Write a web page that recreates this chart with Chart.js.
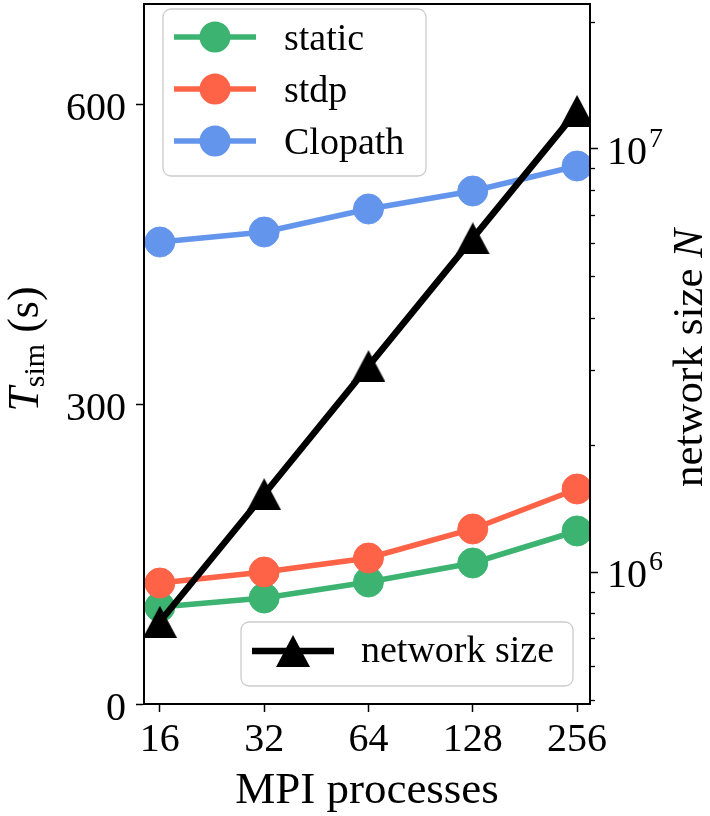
<!DOCTYPE html>
<html lang="en">
<head>
  <meta charset="UTF-8" />
  <title>Simulation time vs MPI processes</title>
  <script src="https://cdn.jsdelivr.net/npm/chart.js@4"></script>
  <style>
    html, body { margin: 0; padding: 0; background: #fff; }
    #wrap { width: 710px; height: 816px; }
  </style>
</head>
<body>
  <div id="wrap"><canvas id="chart" width="710" height="816"></canvas></div>

  <script>
    // data
    const mpiProcesses = [16, 32, 64, 128, 256];
    const staticTime = [97, 106, 122, 141, 173];
    const stdpTime = [121, 132, 146, 175, 215];
    const clopathTime = [462, 472, 495, 513, 538];
    const networkSize = [7.65e5, 1.53e6, 3.07e6, 6.15e6, 1.23e7];

    const timeTicks = [0, 300, 600];
    const sizeMajorTicks = [1e6, 1e7];

    const xRange = [14.4, 279];
    const timeRange = [0, 700];
    const sizeRange = [4.89e5, 2.2e7];

    const GREEN = '#3cb371';
    const RED = '#ff6347';
    const BLUE = '#6495ed';
    const serif = '"Liberation Serif", "Times New Roman", serif';

    Chart.defaults.font.family = serif;
    Chart.defaults.color = '#000';

    // matplotlib-like "^" marker (apex and base symmetric around the point)
    const triangle = (() => {
      const c = document.createElement('canvas');
      c.width = 34; c.height = 32;
      const g = c.getContext('2d');
      g.fillStyle = '#000';
      g.beginPath();
      g.moveTo(17, 0); g.lineTo(34, 32); g.lineTo(0, 32);
      g.closePath();
      g.fill();
      return c;
    })();

    function points(ys) {
      return mpiProcesses.map((x, i) => ({ x: x, y: ys[i] }));
    }

    function timeSeries(label, ys, color, order) {
      return {
        label: label,
        data: points(ys),
        yAxisID: 'yTime',
        borderColor: color,
        backgroundColor: color,
        borderWidth: 5.5,
        pointRadius: 15,
        pointHoverRadius: 15,
        pointBorderWidth: 1,
        pointBorderColor: color,
        pointBackgroundColor: color,
        order: order
      };
    }

    function setTicks(values) {
      return scale => { scale.ticks = values.map(v => ({ value: v })); };
    }

    // fixed axis sizes, no extra room for half labels
    function fitTo(size) {
      return s => {
        if (s.isHorizontal()) s.height = size; else s.width = size;
        s.paddingTop = 0; s.paddingBottom = 0;
        s.paddingLeft = 0; s.paddingRight = 0;
      };
    }

    // draws a run of text pieces with different fonts along one baseline
    function drawRich(ctx, parts, x, y, align) {
      let total = 0;
      parts.forEach(p => { ctx.font = p.font; p.w = ctx.measureText(p.text).width; total += p.w; });
      let cx = align === 'center' ? x - total / 2 : x;
      ctx.textAlign = 'left';
      ctx.textBaseline = 'alphabetic';
      parts.forEach(p => {
        ctx.font = p.font;
        ctx.fillText(p.text, cx, y + (p.dy || 0));
        cx += p.w;
      });
    }

    function legendBox(ctx, x, y, w, h) {
      ctx.beginPath();
      ctx.roundRect(x, y, w, h, 8);
      ctx.fillStyle = 'rgba(255,255,255,0.8)';
      ctx.fill();
      ctx.strokeStyle = '#cccccc';
      ctx.lineWidth = 1.3;
      ctx.stroke();
    }

    function legendHandle(ctx, x0, x1, y, ds) {
      ctx.strokeStyle = ds.borderColor;
      ctx.lineWidth = ds.borderWidth;
      ctx.beginPath();
      ctx.moveTo(x0, y); ctx.lineTo(x1, y);
      ctx.stroke();
      const cx = (x0 + x1) / 2;
      if (ds.pointStyle === triangle) {
        ctx.drawImage(triangle, cx - triangle.width / 2, y - triangle.height / 2);
      } else {
        ctx.fillStyle = ds.borderColor;
        ctx.beginPath();
        ctx.arc(cx, y, 15.5, 0, Math.PI * 2);
        ctx.fill();
      }
    }

    const decorations = {
      id: 'decorations',
      beforeDraw(chart) {
        const ctx = chart.ctx;
        ctx.save();
        ctx.fillStyle = '#fff';
        ctx.fillRect(0, 0, chart.width, chart.height);
        ctx.restore();
      },
      afterDraw(chart) {
        const ctx = chart.ctx;
        const area = chart.chartArea;
        const yN = chart.scales.yN;
        ctx.save();
        ctx.fillStyle = '#000';
        ctx.strokeStyle = '#000';

        // top spine
        ctx.lineWidth = 2;
        ctx.beginPath();
        ctx.moveTo(area.left - 1, area.top);
        ctx.lineTo(area.right + 1, area.top);
        ctx.stroke();

        // minor ticks of the log axis
        ctx.lineWidth = 1.3;
        for (let d = 5; d <= 7; d++) {
          for (let m = 2; m <= 9; m++) {
            const v = m * Math.pow(10, d);
            if (v < sizeRange[0] || v > sizeRange[1]) continue;
            const py = Math.round(yN.getPixelForValue(v)) + 0.5;
            ctx.beginPath();
            ctx.moveTo(area.right, py);
            ctx.lineTo(area.right + 5, py);
            ctx.stroke();
          }
        }

        // log axis labels 10^n
        sizeMajorTicks.forEach(v => {
          const py = yN.getPixelForValue(v);
          const exp = String(Math.round(Math.log10(v)));
          ctx.font = '40px ' + serif;
          ctx.textAlign = 'left';
          ctx.textBaseline = 'alphabetic';
          ctx.fillText('10', area.right + 17, py + 15);
          const w = ctx.measureText('10').width;
          ctx.font = '28px ' + serif;
          ctx.fillText(exp, area.right + 19 + w, py - 2);
        });

        // axis titles
        drawRich(ctx, [{ text: 'MPI processes', font: '45px ' + serif }],
          (area.left + area.right) / 2, 803, 'center');

        ctx.save();
        ctx.translate(38, 349);
        ctx.rotate(-Math.PI / 2);
        drawRich(ctx, [
          { text: 'T', font: 'italic 44px ' + serif },
          { text: 'sim', font: '30px ' + serif, dy: 6 },
          { text: ' (s)', font: '44px ' + serif }
        ], 0, 0, 'center');
        ctx.restore();

        ctx.save();
        ctx.translate(702, 358);
        ctx.rotate(-Math.PI / 2);
        drawRich(ctx, [
          { text: 'network size ', font: '43px ' + serif },
          { text: 'N', font: 'italic 43px ' + serif }
        ], 0, 0, 'center');
        ctx.restore();

        // legend of the time series (upper left)
        const ds = chart.data.datasets;
        const timeSets = [ds[1], ds[2], ds[3]];
        legendBox(ctx, area.left + 19, area.top + 5, 263, 167);
        timeSets.forEach((s, i) => {
          const y = area.top + 33 + i * 52;
          legendHandle(ctx, area.left + 30, area.left + 112, y, s);
          ctx.fillStyle = '#000';
          ctx.font = '38px ' + serif;
          ctx.textAlign = 'left';
          ctx.textBaseline = 'alphabetic';
          ctx.fillText(s.label, area.left + 140, y + 13);
        });

        // legend of the network size (lower right)
        legendBox(ctx, area.left + 97, area.bottom - 82, 332, 64);
        const ly = area.bottom - 53;
        legendHandle(ctx, area.left + 108, area.left + 190, ly, ds[0]);
        ctx.fillStyle = '#000';
        ctx.font = '38px ' + serif;
        ctx.fillText(ds[0].label, area.left + 217, ly + 11);

        ctx.restore();
      }
    };

    const ctx = document.getElementById('chart').getContext('2d');
    const chart = new Chart(ctx, {
      type: 'line',
      data: {
        datasets: [
          {
            label: 'network size',
            data: points(networkSize),
            yAxisID: 'yN',
            borderColor: '#000',
            backgroundColor: '#000',
            borderWidth: 6.5,
            pointStyle: triangle,
            pointRadius: 16,
            pointHoverRadius: 16,
            order: 0
          },
          timeSeries('static', staticTime, GREEN, 3),
          timeSeries('stdp', stdpTime, RED, 2),
          timeSeries('Clopath', clopathTime, BLUE, 1)
        ]
      },
      options: {
        responsive: false,
        animation: false,
        events: [],
        layout: { padding: { top: 4, left: 0, right: 0, bottom: 0 }, autoPadding: false },
        plugins: { legend: { display: false }, tooltip: { enabled: false } },
        scales: {
          x: {
            type: 'logarithmic',
            min: xRange[0],
            max: xRange[1],
            afterBuildTicks: setTicks(mpiProcesses),
            afterFit: fitTo(112),
            ticks: { callback: v => String(v), font: { size: 40 }, padding: 4, maxRotation: 0, autoSkip: false },
            grid: { drawOnChartArea: false, tickLength: 8, tickColor: '#000', tickWidth: 1.5 },
            border: { color: '#000', width: 2, z: 1 }
          },
          yTime: {
            type: 'linear',
            position: 'left',
            min: timeRange[0],
            max: timeRange[1],
            afterBuildTicks: setTicks(timeTicks),
            afterFit: fitTo(144),
            ticks: { font: { size: 40 }, padding: 10, labelOffset: 5 },
            grid: { drawOnChartArea: false, tickLength: 8, tickColor: '#000', tickWidth: 1.5 },
            border: { color: '#000', width: 2, z: 1 }
          },
          yN: {
            type: 'logarithmic',
            position: 'right',
            min: sizeRange[0],
            max: sizeRange[1],
            afterBuildTicks: setTicks(sizeMajorTicks),
            afterFit: fitTo(120),
            ticks: { display: false },
            grid: { drawOnChartArea: false, tickLength: 8, tickColor: '#000', tickWidth: 1.5 },
            border: { color: '#000', width: 2, z: 1 }
          }
        }
      },
      plugins: [decorations]
    });
  </script>
</body>
</html>
